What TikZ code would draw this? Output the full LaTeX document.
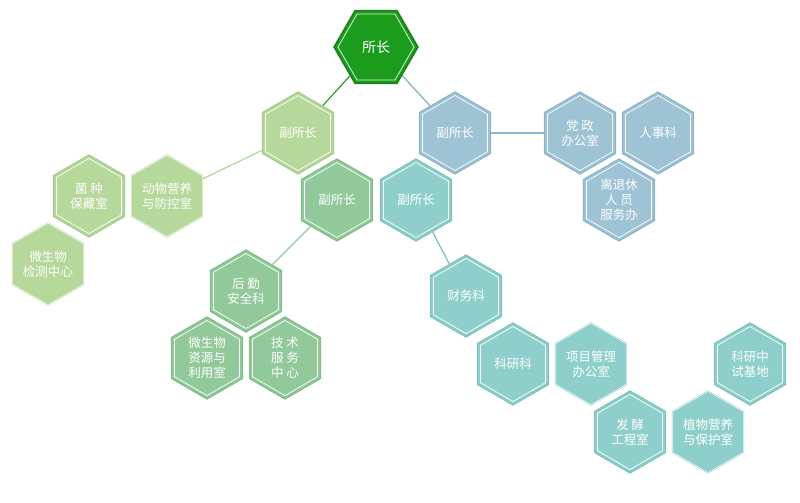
\documentclass[tikz,border=0pt]{standalone}
\usepackage{fontspec}
\setmainfont{Noto Sans CJK SC}
\usetikzlibrary{shapes.geometric,backgrounds}
\definecolor{cTop}{HTML}{1C9C1C}\definecolor{cTopD}{HTML}{168016}
\definecolor{cLG}{HTML}{B6D89B}\definecolor{cLGD}{HTML}{A6CC8A}
\definecolor{cBl}{HTML}{9EC3D5}\definecolor{cBlD}{HTML}{8DB5C9}
\definecolor{cG2}{HTML}{92C99A}\definecolor{cG2D}{HTML}{82BC8A}
\definecolor{cTe}{HTML}{8ECFCB}\definecolor{cTeD}{HTML}{7DC2BE}
\tikzset{
 hexo/.style={regular polygon,regular polygon sides=6,shape border rotate=30,minimum size=82pt,inner sep=0pt,fill=#1,draw=#1D,line width=1.2pt},
 hexi/.style={regular polygon,regular polygon sides=6,shape border rotate=30,minimum size=75pt,inner sep=0pt,draw=white,line width=0.7pt,text=white,font=\fontsize{12.5}{15}\selectfont,align=center},
 conn/.style={line width=1.3pt,draw=#1}
}
\newcommand{\hx}[4]{\node[hexo=#1] (#2) at (#3) {}; \node[hexi] (#2i) at (#3) {#4};}
\begin{document}
\begin{tikzpicture}[x=1pt,y=-1pt]
\useasboundingbox (0,0) rectangle (800,503);
\node[regular polygon,regular polygon sides=6,minimum size=84pt,inner sep=0pt,fill=cTop,draw=cTopD,line width=1.4pt] (top) at (376,47) {};
\node[regular polygon,regular polygon sides=6,minimum size=76pt,inner sep=0pt,draw=white!85!cTop,line width=0.8pt,text=white,font=\fontsize{14}{16}\selectfont] (topi) at (376,47) {所长};
\hx{cLG}{v1}{298,133}{副所长}
\hx{cBl}{v2}{455,133}{副所长}
\hx{cG2}{v3}{337,200}{副所长}
\hx{cTe}{v4}{416,200}{副所长}
\hx{cBl}{b1}{580,133}{党 政\\办公室}
\hx{cBl}{b2}{658,133}{人事科}
\hx{cBl}{b3}{619,200}{离退休\\人 员\\服务办}
\hx{cLG}{l1}{89,196}{菌 种\\保藏室}
\hx{cLG}{l2}{167,196}{动物营养\\与防控室}
\hx{cLG}{l3}{48,264}{微生物\\检测中心}
\hx{cG2}{g1}{246,291}{后 勤\\安全科}
\hx{cG2}{g2}{207,358}{微生物\\资源与\\利用室}
\hx{cG2}{g3}{285,358}{技 术\\服 务\\中 心}
\hx{cTe}{t1}{466,296}{财务科}
\hx{cTe}{t2}{513,364}{科研科}
\hx{cTe}{t3}{591,364}{项目管理\\办公室}
\hx{cTe}{t4}{630,432}{发 酵\\工程室}
\hx{cTe}{t5}{708,432}{植物营养\\与保护室}
\hx{cTe}{t6}{750,364}{科研中\\试基地}
\begin{scope}[on background layer]
\draw[conn=cTopD!70!cLG] (top) -- (v1);
\draw[conn=cBlD] (top) -- (v2);
\draw[conn=cLG] (v1) -- (l2);
\draw[conn=cBlD] (v2) -- (b1);
\draw[conn=cG2] (v3) -- (g1);
\draw[conn=cTeD] (v4) -- (t1);
\end{scope}
\end{tikzpicture}
\end{document}
